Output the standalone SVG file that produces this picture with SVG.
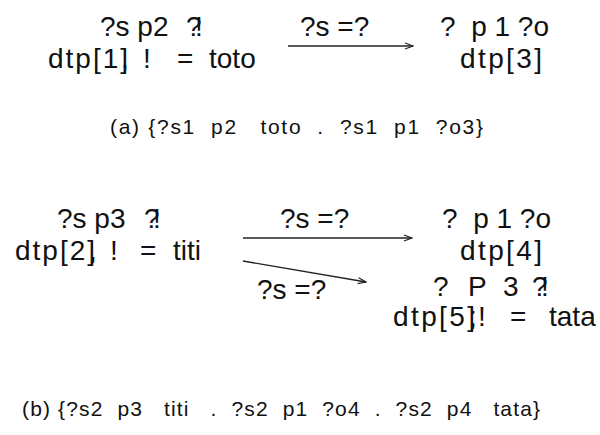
<svg xmlns="http://www.w3.org/2000/svg" width="600" height="435" viewBox="0 0 600 435">
<style>
text{font-family:"Liberation Sans",Arial,sans-serif;fill:#111}
.t{font-size:28px}
.c{font-size:21px}
.ln{stroke:#222;stroke-width:1.3;fill:none}
</style>
<defs>
<marker id="ah" markerWidth="10" markerHeight="8" refX="9" refY="4" orient="auto" markerUnits="userSpaceOnUse">
<path d="M1,1 L9,4 L1,7" fill="none" stroke="#222" stroke-width="1.2"/>
</marker>
</defs>
<rect width="600" height="435" fill="#fff"/>
<g id="connectors">
<line class="ln" x1="288" y1="46" x2="413" y2="46" marker-end="url(#ah)"/>
<line class="ln" x1="243" y1="238" x2="412" y2="238" marker-end="url(#ah)"/>
<line class="ln" x1="243" y1="261" x2="366" y2="282" marker-end="url(#ah)"/>
<text class="t" x="300" y="36">?s =?</text>
<text class="t" x="280" y="228">?s =?</text>
<text class="t" x="257" y="299">?s =?</text>
</g>
<g id="node-a1">
<text class="t" x="100" y="36">?s p2<tspan x="186">?</tspan><tspan x="195">!</tspan></text>
<text class="t" x="48" y="68"><tspan textLength="80" lengthAdjust="spacing">dtp[1]</tspan><tspan x="121">,</tspan><tspan x="143">!</tspan><tspan x="177">=</tspan><tspan x="209">toto</tspan></text>
</g>
<g id="node-a2">
<text class="t" x="440" y="36" xml:space="preserve">?  p 1 ?o</text>
<text class="t" x="460" y="68" textLength="82" lengthAdjust="spacing">dtp[3]</text>
</g>
<g id="caption-a">
<text class="c" x="110" y="134" textLength="373" lengthAdjust="spacing" xml:space="preserve">(a) {?s1  p2   toto  .  ?s1  p1  ?o3}</text>
</g>
<g id="node-b1">
<text class="t" x="57" y="228">?s p3<tspan x="144">?</tspan><tspan x="153">!</tspan></text>
<text class="t" x="15" y="260"><tspan textLength="80" lengthAdjust="spacing">dtp[2]</tspan><tspan x="89">,</tspan><tspan x="110">!</tspan><tspan x="140">=</tspan><tspan x="173">titi</tspan></text>
</g>
<g id="node-b2">
<text class="t" x="442" y="228" xml:space="preserve">?  p 1 ?o</text>
<text class="t" x="460" y="260" textLength="82" lengthAdjust="spacing">dtp[4]</text>
</g>
<g id="node-b3">
<text class="t" x="433" y="296">?<tspan x="468">P</tspan><tspan x="503">3</tspan><tspan x="532">?</tspan><tspan x="541">!</tspan></text>
<text class="t" x="393" y="326"><tspan textLength="82" lengthAdjust="spacing">dtp[5]</tspan><tspan x="469">;</tspan><tspan x="478">!</tspan><tspan x="510">=</tspan><tspan x="549">tata</tspan></text>
</g>
<g id="caption-b">
<text class="c" x="22" y="416" textLength="518" lengthAdjust="spacing" xml:space="preserve">(b) {?s2  p3   titi   .  ?s2  p1  ?o4  .  ?s2  p4   tata}</text>
</g>
</svg>
